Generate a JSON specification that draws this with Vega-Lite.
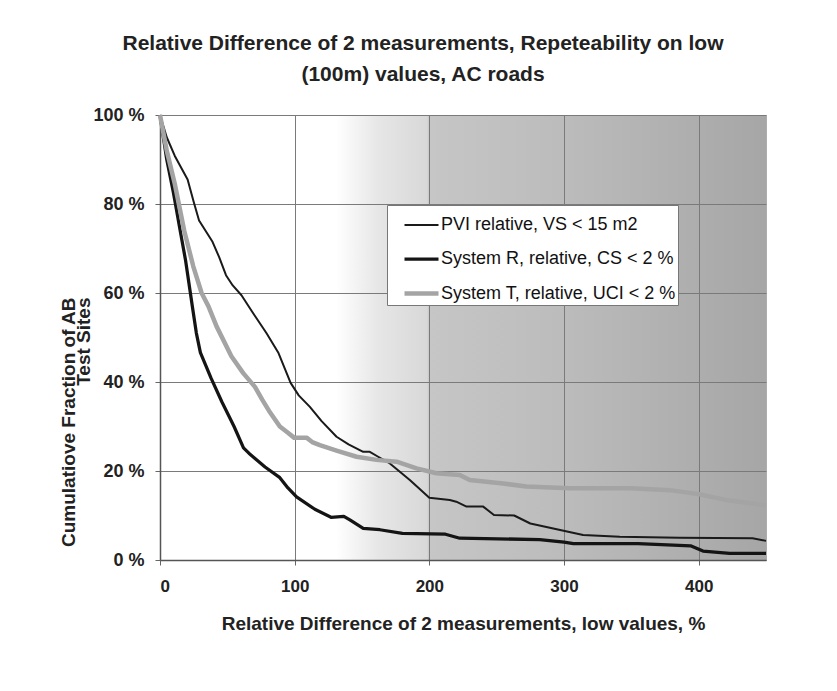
{
  "$schema": "https://vega.github.io/schema/vega-lite/v6.json",
  "width": 606,
  "height": 445,
  "autosize": {"type": "none"},
  "padding": {"left": 160, "top": 115, "right": 71, "bottom": 131},
  "background": "white",
  "title": {
    "text": ["Relative Difference of 2 measurements, Repeteability on low", "(100m) values, AC roads"],
    "font": "Liberation Sans",
    "fontSize": 21,
    "fontWeight": "bold",
    "color": "#222222",
    "lineHeight": 31,
    "anchor": "middle",
    "dx": -40,
    "offset": 21
  },
  "view": {
    "fill": {
      "gradient": "linear",
      "x1": 0, "y1": 0, "x2": 1, "y2": 0,
      "stops": [
        {"offset": 0, "color": "#ffffff"},
        {"offset": 0.29, "color": "#ffffff"},
        {"offset": 0.36, "color": "#e6e6e6"},
        {"offset": 0.44, "color": "#d8d8d8"},
        {"offset": 0.443, "color": "#c6c6c6"},
        {"offset": 0.66, "color": "#bcbcbc"},
        {"offset": 1, "color": "#a6a6a6"}
      ]
    },
    "stroke": "#888888",
    "strokeDash": [1, 1]
  },
  "data": {
    "values": [
      {"s": "PVI relative, VS < 15 m2", "x": 0, "y": 100},
      {"s": "PVI relative, VS < 15 m2", "x": 5, "y": 95},
      {"s": "PVI relative, VS < 15 m2", "x": 11, "y": 90.8},
      {"s": "PVI relative, VS < 15 m2", "x": 20.5, "y": 85.5},
      {"s": "PVI relative, VS < 15 m2", "x": 25, "y": 80.5},
      {"s": "PVI relative, VS < 15 m2", "x": 29, "y": 76.3},
      {"s": "PVI relative, VS < 15 m2", "x": 39, "y": 71.5},
      {"s": "PVI relative, VS < 15 m2", "x": 44, "y": 68},
      {"s": "PVI relative, VS < 15 m2", "x": 49, "y": 64},
      {"s": "PVI relative, VS < 15 m2", "x": 54, "y": 61.7},
      {"s": "PVI relative, VS < 15 m2", "x": 60.5, "y": 59.5},
      {"s": "PVI relative, VS < 15 m2", "x": 69.3, "y": 55.4},
      {"s": "PVI relative, VS < 15 m2", "x": 79, "y": 51},
      {"s": "PVI relative, VS < 15 m2", "x": 88, "y": 46.5},
      {"s": "PVI relative, VS < 15 m2", "x": 97, "y": 39.8},
      {"s": "PVI relative, VS < 15 m2", "x": 103, "y": 37},
      {"s": "PVI relative, VS < 15 m2", "x": 111.3, "y": 34.4},
      {"s": "PVI relative, VS < 15 m2", "x": 120, "y": 31.2},
      {"s": "PVI relative, VS < 15 m2", "x": 131.1, "y": 27.7},
      {"s": "PVI relative, VS < 15 m2", "x": 140, "y": 26},
      {"s": "PVI relative, VS < 15 m2", "x": 150.9, "y": 24.3},
      {"s": "PVI relative, VS < 15 m2", "x": 155.8, "y": 24.3},
      {"s": "PVI relative, VS < 15 m2", "x": 162, "y": 23.2},
      {"s": "PVI relative, VS < 15 m2", "x": 170.7, "y": 21.7},
      {"s": "PVI relative, VS < 15 m2", "x": 185.5, "y": 18},
      {"s": "PVI relative, VS < 15 m2", "x": 200, "y": 14},
      {"s": "PVI relative, VS < 15 m2", "x": 215.2, "y": 13.5},
      {"s": "PVI relative, VS < 15 m2", "x": 220, "y": 13.1},
      {"s": "PVI relative, VS < 15 m2", "x": 227.6, "y": 12},
      {"s": "PVI relative, VS < 15 m2", "x": 240, "y": 12},
      {"s": "PVI relative, VS < 15 m2", "x": 248, "y": 10.1},
      {"s": "PVI relative, VS < 15 m2", "x": 263, "y": 10},
      {"s": "PVI relative, VS < 15 m2", "x": 275, "y": 8.2},
      {"s": "PVI relative, VS < 15 m2", "x": 298, "y": 6.7},
      {"s": "PVI relative, VS < 15 m2", "x": 314.2, "y": 5.6},
      {"s": "PVI relative, VS < 15 m2", "x": 341.4, "y": 5.2},
      {"s": "PVI relative, VS < 15 m2", "x": 385.9, "y": 5},
      {"s": "PVI relative, VS < 15 m2", "x": 440, "y": 4.9},
      {"s": "PVI relative, VS < 15 m2", "x": 450, "y": 4.3},

      {"s": "System R, relative, CS < 2 %", "x": 0, "y": 100},
      {"s": "System R, relative, CS < 2 %", "x": 5, "y": 90},
      {"s": "System R, relative, CS < 2 %", "x": 10, "y": 82.5},
      {"s": "System R, relative, CS < 2 %", "x": 15, "y": 74},
      {"s": "System R, relative, CS < 2 %", "x": 19, "y": 67.3},
      {"s": "System R, relative, CS < 2 %", "x": 24, "y": 57},
      {"s": "System R, relative, CS < 2 %", "x": 27, "y": 51},
      {"s": "System R, relative, CS < 2 %", "x": 30, "y": 46.6},
      {"s": "System R, relative, CS < 2 %", "x": 38, "y": 40.8},
      {"s": "System R, relative, CS < 2 %", "x": 46, "y": 35.5},
      {"s": "System R, relative, CS < 2 %", "x": 55, "y": 30},
      {"s": "System R, relative, CS < 2 %", "x": 62, "y": 25.2},
      {"s": "System R, relative, CS < 2 %", "x": 66, "y": 24},
      {"s": "System R, relative, CS < 2 %", "x": 78, "y": 20.9},
      {"s": "System R, relative, CS < 2 %", "x": 89, "y": 18.5},
      {"s": "System R, relative, CS < 2 %", "x": 95, "y": 16.2},
      {"s": "System R, relative, CS < 2 %", "x": 101.4, "y": 14.2},
      {"s": "System R, relative, CS < 2 %", "x": 115, "y": 11.4},
      {"s": "System R, relative, CS < 2 %", "x": 127, "y": 9.6},
      {"s": "System R, relative, CS < 2 %", "x": 136.5, "y": 9.8},
      {"s": "System R, relative, CS < 2 %", "x": 141, "y": 9},
      {"s": "System R, relative, CS < 2 %", "x": 150.9, "y": 7.1},
      {"s": "System R, relative, CS < 2 %", "x": 163.3, "y": 6.8},
      {"s": "System R, relative, CS < 2 %", "x": 180, "y": 6},
      {"s": "System R, relative, CS < 2 %", "x": 212, "y": 5.8},
      {"s": "System R, relative, CS < 2 %", "x": 222.6, "y": 4.9},
      {"s": "System R, relative, CS < 2 %", "x": 282, "y": 4.6},
      {"s": "System R, relative, CS < 2 %", "x": 300, "y": 4},
      {"s": "System R, relative, CS < 2 %", "x": 307, "y": 3.7},
      {"s": "System R, relative, CS < 2 %", "x": 355, "y": 3.7},
      {"s": "System R, relative, CS < 2 %", "x": 394, "y": 3.2},
      {"s": "System R, relative, CS < 2 %", "x": 403.2, "y": 2},
      {"s": "System R, relative, CS < 2 %", "x": 423, "y": 1.5},
      {"s": "System R, relative, CS < 2 %", "x": 450, "y": 1.5},

      {"s": "System T, relative, UCI < 2 %", "x": 0, "y": 100},
      {"s": "System T, relative, UCI < 2 %", "x": 5, "y": 92},
      {"s": "System T, relative, UCI < 2 %", "x": 11, "y": 84.5},
      {"s": "System T, relative, UCI < 2 %", "x": 18, "y": 74},
      {"s": "System T, relative, UCI < 2 %", "x": 24.7, "y": 66},
      {"s": "System T, relative, UCI < 2 %", "x": 30.9, "y": 60},
      {"s": "System T, relative, UCI < 2 %", "x": 36, "y": 57},
      {"s": "System T, relative, UCI < 2 %", "x": 42, "y": 52.5},
      {"s": "System T, relative, UCI < 2 %", "x": 53, "y": 45.8},
      {"s": "System T, relative, UCI < 2 %", "x": 61.8, "y": 42},
      {"s": "System T, relative, UCI < 2 %", "x": 70.5, "y": 38.9},
      {"s": "System T, relative, UCI < 2 %", "x": 76, "y": 36},
      {"s": "System T, relative, UCI < 2 %", "x": 81, "y": 33.5},
      {"s": "System T, relative, UCI < 2 %", "x": 89, "y": 30},
      {"s": "System T, relative, UCI < 2 %", "x": 95, "y": 28.6},
      {"s": "System T, relative, UCI < 2 %", "x": 99.5, "y": 27.5},
      {"s": "System T, relative, UCI < 2 %", "x": 108.8, "y": 27.5},
      {"s": "System T, relative, UCI < 2 %", "x": 113, "y": 26.5},
      {"s": "System T, relative, UCI < 2 %", "x": 118.7, "y": 25.8},
      {"s": "System T, relative, UCI < 2 %", "x": 131.1, "y": 24.6},
      {"s": "System T, relative, UCI < 2 %", "x": 146, "y": 23.2},
      {"s": "System T, relative, UCI < 2 %", "x": 160.8, "y": 22.5},
      {"s": "System T, relative, UCI < 2 %", "x": 175.7, "y": 22.1},
      {"s": "System T, relative, UCI < 2 %", "x": 190.5, "y": 20.6},
      {"s": "System T, relative, UCI < 2 %", "x": 205.3, "y": 19.5},
      {"s": "System T, relative, UCI < 2 %", "x": 222.6, "y": 19.1},
      {"s": "System T, relative, UCI < 2 %", "x": 230, "y": 18},
      {"s": "System T, relative, UCI < 2 %", "x": 254.8, "y": 17.2},
      {"s": "System T, relative, UCI < 2 %", "x": 272, "y": 16.5},
      {"s": "System T, relative, UCI < 2 %", "x": 304, "y": 16.1},
      {"s": "System T, relative, UCI < 2 %", "x": 350, "y": 16.1},
      {"s": "System T, relative, UCI < 2 %", "x": 378.5, "y": 15.7},
      {"s": "System T, relative, UCI < 2 %", "x": 400, "y": 14.8},
      {"s": "System T, relative, UCI < 2 %", "x": 420, "y": 13.5},
      {"s": "System T, relative, UCI < 2 %", "x": 450, "y": 12.3}
    ]
  },
  "mark": {"type": "line", "interpolate": "linear", "strokeJoin": "round"},
  "encoding": {
    "x": {
      "field": "x",
      "type": "quantitative",
      "scale": {"domain": [0, 450], "nice": false, "zero": false},
      "axis": {
        "values": [0, 100, 200, 300, 400],
        "title": "Relative Difference of 2 measurements, low values, %",
        "labelPadding": 13,
        "titlePadding": 20,
        "titleFontSize": 19
      }
    },
    "y": {
      "field": "y",
      "type": "quantitative",
      "scale": {"domain": [0, 100], "nice": false},
      "axis": {
        "values": [0, 20, 40, 60, 80, 100],
        "labelExpr": "datum.value + ' %'",
        "labelPadding": 11,
        "labelFontSize": 18,
        "title": ["Cumulatiove Fraction of AB", "Test Sites"],
        "titleFontSize": 19,
        "titleAngle": -90,
        "titleAlign": "right",
        "titleBaseline": "alphabetic",
        "titleX": -86,
        "titleY": 182,
        "titleLineHeight": 15
      }
    },
    "color": {
      "field": "s",
      "type": "nominal",
      "scale": {
        "domain": ["PVI relative, VS < 15 m2", "System R, relative, CS < 2 %", "System T, relative, UCI < 2 %"],
        "range": ["#1a1a1a", "#141414", "#a4a4a4"]
      },
      "legend": {
        "orient": "none",
        "legendX": 227,
        "legendY": 90,
        "title": null,
        "fillColor": "white",
        "strokeColor": "#777777",
        "padding": 2,
        "symbolType": "stroke",
        "symbolSize": 1156,
        "symbolOffset": 13,
        "labelOffset": 0,
        "rowPadding": 6,
        "labelFont": "Liberation Sans",
        "labelFontSize": 18,
        "labelColor": "#111111",
        "labelLimit": 400
      }
    },
    "strokeWidth": {
      "field": "s",
      "type": "nominal",
      "scale": {
        "domain": ["PVI relative, VS < 15 m2", "System R, relative, CS < 2 %", "System T, relative, UCI < 2 %"],
        "range": [2, 4.5, 3.5]
      },
      "legend": {
        "orient": "none",
        "legendX": 227,
        "legendY": 90,
        "title": null,
        "fillColor": "white",
        "strokeColor": "#777777",
        "padding": 2,
        "symbolType": "stroke",
        "symbolSize": 1156,
        "symbolOffset": 13,
        "labelOffset": 0,
        "rowPadding": 6,
        "labelFont": "Liberation Sans",
        "labelFontSize": 18,
        "labelColor": "#111111",
        "labelLimit": 400
      }
    }
  },
  "config": {
    "axis": {
      "labelFont": "Liberation Sans",
      "labelFontSize": 17,
      "labelFontWeight": "bold",
      "labelColor": "#222222",
      "titleFont": "Liberation Sans",
      "titleFontSize": 19,
      "titleFontWeight": "bold",
      "titleColor": "#222222",
      "grid": true,
      "gridColor": "#7a7a7a",
      "gridWidth": 1,
      "domainColor": "#555555",
      "domainWidth": 1.5,
      "tickColor": "#666666",
      "tickSize": 5
    }
  }
}
